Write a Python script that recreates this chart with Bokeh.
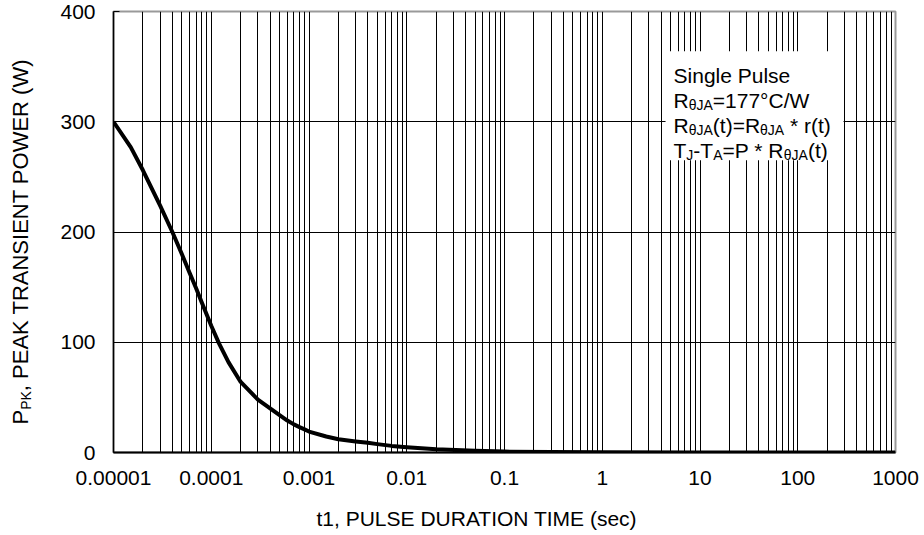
import math
from bokeh.plotting import figure
from bokeh.layouts import row, column
from bokeh.models import FixedTicker, Label, BoxAnnotation, CustomJSTickFormatter, Range1d
from bokeh.embed import file_html
from bokeh.resources import INLINE

# ---------------- data ----------------
t_sec = [1e-5, 1.5e-5, 2e-5, 3e-5, 4e-5, 5e-5, 6e-5, 7e-5, 8e-5, 9e-5, 1e-4,
         1.2e-4, 1.5e-4, 2e-4, 3e-4, 4e-4, 5e-4, 6e-4, 7e-4, 8e-4, 9e-4,
         1e-3, 1.5e-3, 2e-3, 3e-3, 4e-3, 5e-3, 7e-3, 1e-2, 2e-2, 5e-2, 0.1,
         0.3, 1, 10, 100, 1000]
p_watt = [300, 277, 256, 224, 200, 180, 163, 149, 136, 125, 115,
          99, 82, 64, 48, 40, 34, 29, 25.5, 23, 21,
          19, 14.5, 12, 10, 8.8, 7.6, 6, 4.8, 3, 1.5, 0.8,
          0.4, 0.25, 0.1, 0.05, 0.03]

x_decades = [1e-5, 1e-4, 1e-3, 1e-2, 1e-1, 1, 10, 100, 1000]
x_tick_labels = ["0.00001", "0.0001", "0.001", "0.01", "0.1", "1", "10", "100", "1000"]
y_ticks = [0, 100, 200, 300, 400]

x_title = "t1, PULSE DURATION TIME (sec)"
y_title_main = "P"
y_title_sub = "PK"
y_title_rest = ", PEAK TRANSIENT POWER (W)"

note_lines = [
    [("Single Pulse", False)],
    [("R", False), ("\u03b8JA", True), ("=177\u00b0C/W", False)],
    [("R", False), ("\u03b8JA", True), ("(t)=R", False), ("\u03b8JA", True), (" * r(t)", False)],
    [("T", False), ("J", True), ("-T", False), ("A", True), ("=P * R", False), ("\u03b8JA", True), ("(t)", False)],
]
box_left, box_right, box_bottom, box_top = 4.44, 294.0, 265.0, 364.0

FONT = "Liberation Sans"
FS = 21
FS_SUB = 14
FS_YT = 22

W = {'S': 667, 'i': 222, 'n': 556, 'g': 556, 'l': 222, 'e': 556, ' ': 278, 'P': 667,
     'u': 556, 's': 500, 'R': 722, '=': 584, '1': 556, '7': 556, '\u00b0': 400,
     'C': 722, '/': 278, 'W': 944, '(': 333, 't': 278, ')': 333, '*': 389, 'r': 333,
     'T': 611, '-': 333, 'A': 667, 'J': 500, '\u03b8': 556, 'K': 667, 'E': 667,
     'N': 722, 'O': 778, 'I': 278, ',': 278, 'D': 722, 'M': 833, 'c': 500, 'U': 722, 'L': 556}


def tw(s, size):
    return sum(W.get(c, 556) for c in s) * size / 1000.0


TOTAL_W, TOTAL_H = 924, 535
LEFT_W = 55
XT_H = 40
MAIN_H = TOTAL_H - XT_H
FRAME_TOP, FRAME_BOTTOM = 11, 452
BORDER_TOP, BORDER_BOTTOM = FRAME_TOP, MAIN_H - FRAME_BOTTOM

# ---------------- main chart ----------------
p = figure(width=TOTAL_W - LEFT_W, height=MAIN_H, x_axis_type="log",
           x_range=(x_decades[0], x_decades[-1]), y_range=(y_ticks[0], y_ticks[-1]),
           output_backend="svg", toolbar_location=None,
           min_border_left=113 - LEFT_W, min_border_right=29,
           min_border_top=BORDER_TOP, min_border_bottom=BORDER_BOTTOM)
p.background_fill_color = "white"
p.border_fill_color = "white"
p.outline_line_color = "#9a9a9a"
p.outline_line_width = 2

minor = [m * d for d in x_decades[:-1] for m in range(2, 10)]
p.xaxis.ticker = FixedTicker(ticks=x_decades, minor_ticks=minor)
p.xaxis.formatter = CustomJSTickFormatter(args=dict(vals=x_decades, labs=x_tick_labels), code="""
let best = 0, bd = 1e9;
for (let i = 0; i < vals.length; i++) {
  const d = Math.abs(Math.log10(tick) - Math.log10(vals[i]));
  if (d < bd) { bd = d; best = i; }
}
return labs[best];
""")
p.yaxis.ticker = FixedTicker(ticks=y_ticks)

for ax in (p.xaxis, p.yaxis):
    ax.major_label_text_font = FONT
    ax.major_label_text_font_size = f"{FS}px"
    ax.major_label_text_color = "black"
    ax.axis_line_color = "black"
    ax.minor_tick_line_color = None
    ax.major_tick_line_color = "black"
p.xaxis.major_tick_in = 0
p.xaxis.major_tick_out = 0
p.xaxis.axis_line_width = 2
p.xaxis.major_label_standoff = 14
p.yaxis.major_tick_in = 6
p.yaxis.major_tick_out = 0
p.yaxis.axis_line_width = 1.5
p.yaxis.major_label_standoff = 18

p.xgrid.grid_line_color = "black"
p.xgrid.grid_line_width = 1
p.xgrid.minor_grid_line_color = "black"
p.xgrid.minor_grid_line_width = 1
p.ygrid.grid_line_color = "black"
p.ygrid.grid_line_width = 1

p.line(t_sec, p_watt, line_width=4, line_color="black", line_join="round")

p.add_layout(BoxAnnotation(left=box_left, right=box_right, bottom=box_bottom, top=box_top,
                           fill_color="white", fill_alpha=1.0, line_color=None))
for i, runs in enumerate(note_lines):
    xo = 8.0
    base = -24 - 25 * i
    for txt, sub in runs:
        size = FS_SUB if sub else FS
        stripped = txt.lstrip(" ")
        xo += tw(txt[:len(txt) - len(stripped)], size)
        p.add_layout(Label(x=box_left, y=box_top, x_offset=xo, y_offset=base - (5 if sub else 0),
                           text=stripped, text_font=FONT, text_font_size=f"{size}px",
                           text_color="black", text_align="left", text_baseline="alphabetic"))
        xo += tw(stripped, size)


def strip(width, height, xr, yr, borders):
    f = figure(width=width, height=height, x_range=xr, y_range=yr,
               output_backend="svg", toolbar_location=None, title=None,
               x_axis_location=None, y_axis_location=None,
               min_border_left=borders[0], min_border_right=borders[1],
               min_border_top=borders[2], min_border_bottom=borders[3])
    f.grid.visible = False
    f.outline_line_color = None
    f.background_fill_color = "white"
    f.border_fill_color = "white"
    return f


# ---------------- y-axis title strip (frame aligned with main frame) ----------------
yt = strip(LEFT_W, MAIN_H, Range1d(0, LEFT_W), Range1d(y_ticks[0], y_ticks[-1]),
           (0, 0, BORDER_TOP, BORDER_BOTTOM))
px_per_unit = (FRAME_BOTTOM - FRAME_TOP) / (y_ticks[-1] - y_ticks[0])
base_x = 20.0
ys = (FRAME_BOTTOM - 424) / px_per_unit
for txt, size, shift in [(y_title_main, FS_YT, 0.0), (y_title_sub, FS_SUB, 5.0), (y_title_rest, FS_YT, 0.0)]:
    yt.text(x=[base_x + shift], y=[ys], text=[txt], angle=math.pi / 2,
            text_font={"value": FONT}, text_font_size={"value": f"{size}px"},
            text_color="black", text_align="left", text_baseline="alphabetic")
    ys += tw(txt, size) / px_per_unit

# ---------------- x-axis title strip ----------------
xt = strip(TOTAL_W, XT_H, Range1d(0, TOTAL_W), Range1d(0, XT_H), (0, 0, 0, 0))
xt.text(x=[316], y=[17.5], text=[x_title],
        text_font={"value": FONT}, text_font_size={"value": f"{FS}px"},
        text_color="black", text_align="left", text_baseline="alphabetic")

layout = column(row(yt, p), xt)
open("out.html", "w").write(file_html(layout, INLINE))
